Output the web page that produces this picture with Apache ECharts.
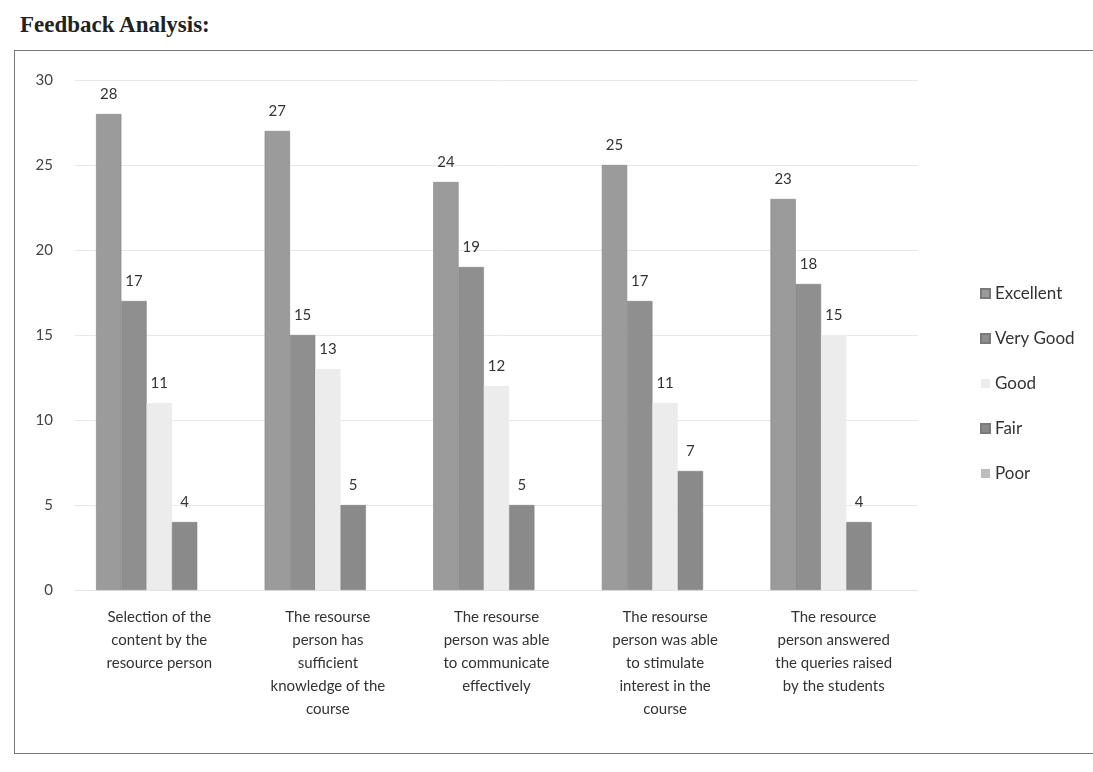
<!DOCTYPE html>
<html>
<head>
<meta charset="utf-8">
<script src="https://cdn.jsdelivr.net/npm/echarts@6/dist/echarts.min.js"></script>
<style>
  html, body { margin: 0; padding: 0; background: #fff; }
  .page { position: relative; width: 1093px; height: 772px; overflow: hidden; }
  .title {
    position: absolute; left: 20px; top: 12px;
    font-family: "Liberation Serif", serif; font-weight: bold; font-size: 23px; color: #222;
  }
  .frame {
    position: absolute; left: 14px; top: 50px; width: 1100px; height: 702px;
    border: 1.5px solid #777;
  }
  #chart { position: absolute; left: 0; top: 0; width: 1093px; height: 772px; }
</style>
</head>
<body>
<div class="page">
  <div class="title">Feedback Analysis:</div>
  <div class="frame"></div>
  <div id="chart"></div>
</div>
<script>
const categories = [
  'Selection of the\ncontent by the\nresource person',
  'The resourse\nperson has\nsufficient\nknowledge of the\ncourse',
  'The resourse\nperson was able\nto communicate\neffectively',
  'The resourse\nperson was able\nto stimulate\ninterest in the\ncourse',
  'The resource\nperson answered\nthe queries raised\nby the students'
]
const seriesNames = ['Excellent', 'Very Good', 'Good', 'Fair', 'Poor']
const excellent = [28, 27, 24, 25, 23]
const veryGood = [17, 15, 19, 17, 18]
const good = [11, 13, 12, 11, 15]
const fair = [4, 5, 5, 7, 4]
const poor = [0, 0, 0, 0, 0]
const yTicks = [0, 5, 10, 15, 20, 25, 30]

const colors = ['#9b9b9b', '#8f8f8f', '#ececec', '#8a8a8a', '#bdbdbd']
const values = [excellent, veryGood, good, fair, poor]

const chart = echarts.init(document.getElementById('chart'))
const font = 'Lato, "Open Sans", sans-serif'

chart.setOption({
  animation: false,
  textStyle: { fontFamily: font },
  grid: { left: 75, right: 175, top: 80, bottom: 182 },
  legend: {
    orient: 'vertical',
    left: 975,
    top: 280,
    itemWidth: 9,
    itemHeight: 9,
    itemGap: 28,
    icon: 'rect',
    data: seriesNames,
    textStyle: { color: '#333', fontSize: 17, fontFamily: font }
  },
  xAxis: {
    type: 'category',
    data: categories,
    axisTick: { show: false },
    axisLine: { lineStyle: { color: '#e4e4e4' } },
    axisLabel: {
      color: '#333', fontSize: 15, lineHeight: 23, margin: 16, interval: 0
    }
  },
  yAxis: {
    type: 'value',
    min: yTicks[0],
    max: yTicks[yTicks.length - 1],
    interval: 5,
    axisLine: { show: false },
    axisTick: { show: false },
    axisLabel: { color: '#444', fontSize: 15, margin: 22 },
    splitLine: { lineStyle: { color: '#e8e8e8' } }
  },
  series: seriesNames.map((name, i) => ({
    name,
    type: 'bar',
    data: values[i],
    barGap: '0%',
    barCategoryGap: '25%',
    itemStyle: { color: colors[i], borderColor: '#7a7a7a', borderWidth: (i === 2 || i === 4) ? 0 : 0.5 },
    label: {
      show: true,
      position: 'top',
      distance: 12,
      color: '#333',
      fontSize: 15,
      formatter: p => (p.value ? p.value : '')
    }
  }))
})
</script>
</body>
</html>
